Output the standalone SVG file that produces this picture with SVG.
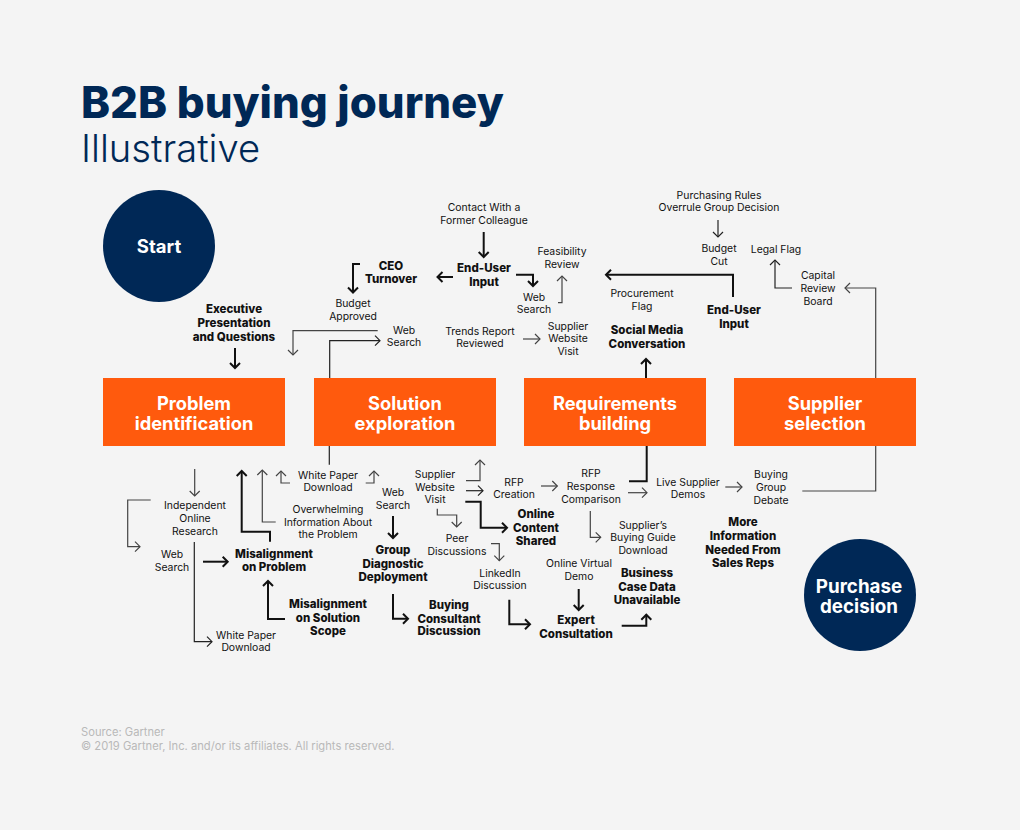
<svg xmlns="http://www.w3.org/2000/svg" width="1020" height="830" viewBox="0 0 1020 830">
<style>
text{font-family:Inter,"Liberation Sans",sans-serif;text-anchor:middle;fill:#111}
.r{font-size:10.4px;font-weight:400}
.b{font-size:11.500px;font-weight:800}
.box rect{fill:#ff5a0d}
.box text{font-size:18.300px;font-weight:700;fill:#fff}
.c circle{fill:#002856}
.c text{fill:#fff;font-weight:700}
.t{fill:none;stroke:#222;stroke-width:1.2;marker-end:url(#mt)}
.g{fill:none;stroke:#444;stroke-width:1.2;marker-end:url(#mg)}
.k{fill:none;stroke:#111;stroke-width:2;marker-end:url(#mk)}
.n{fill:none;stroke:#222;stroke-width:1.2}
.gn{fill:none;stroke:#444;stroke-width:1.2}
.ft{font-size:11.200px;fill:#b9b9b9;text-anchor:start}
</style>
<defs>
<marker id="mt" markerUnits="userSpaceOnUse" markerWidth="14" markerHeight="14" refX="7" refY="7" orient="auto"><path d="M2,2L7,7L2,12" fill="none" stroke="#222" stroke-width="1.2"/></marker>
<marker id="mg" markerUnits="userSpaceOnUse" markerWidth="14" markerHeight="14" refX="7" refY="7" orient="auto"><path d="M2,2L7,7L2,12" fill="none" stroke="#444" stroke-width="1.2"/></marker>
<marker id="mk" markerUnits="userSpaceOnUse" markerWidth="14" markerHeight="14" refX="7" refY="7" orient="auto"><path d="M2,2L7,7L2,12" fill="none" stroke="#111" stroke-width="2"/></marker>
</defs>
<rect width="1020" height="830" fill="#f4f4f4"/>
<text x="81" y="118" style="font-size:43.800px;font-weight:800;fill:#002856;text-anchor:start">B2B buying journey</text>
<text x="81" y="162" style="font-size:38.200px;font-weight:300;fill:#002856;text-anchor:start">Illustrative</text>
<g id="connectors">
<path class="k" d="M483.7 232V257"/>
<path class="k" d="M453 277H437.500"/>
<path class="k" d="M516 274.700H533V286"/>
<path class="k" d="M360 264H353V292.500"/>
<path class="g" d="M377.700 330.700H293V355"/>
<path class="t" d="M329.700 378V340.700H380"/>
<path class="g" d="M523 339H540"/>
<path class="k" d="M235 348V368"/>
<path class="g" d="M558 302.700H562V276"/>
<path class="t" d="M718 220V237"/>
<path class="k" d="M733 297V274.700H606"/>
<path class="t" d="M792 288H775V260"/>
<path class="g" d="M875.700 378V288H845"/>
<path class="k" d="M646 378V359"/>
<path class="g" d="M194.700 469V496"/>
<path class="g" d="M150.700 500H127.700V546.700H140"/>
<path class="t" d="M194.300 542V641.700H212"/>
<path class="k" d="M203 561.700H227.700"/>
<path class="k" d="M270 541.700V531.700H241.700V471"/>
<path class="g" d="M275.700 522H262.300V470"/>
<path class="g" d="M290 483H281V471"/>
<path class="g" d="M365.700 483H374V471"/>
<path class="n" d="M329.300 446V464.700"/>
<path class="k" d="M285 619H268V581"/>
<path class="k" d="M393 516V538"/>
<path class="k" d="M393 594V618.700H408"/>
<path class="g" d="M466 480.700H480V460"/>
<path class="t" d="M466 490.700H483"/>
<path class="k" d="M465.300 501.700H480.700V527.700H507"/>
<path class="g" d="M437.300 508.700V515H456.700V527"/>
<path class="g" d="M491 543.700H499.300V560.700"/>
<path class="g" d="M541 486H557.300"/>
<path class="k" d="M646.700 446V481.300H629" style="marker-end:none"/>
<path class="g" d="M628 492.700H647"/>
<path class="g" d="M590.300 511V537.300H600.700"/>
<path class="k" d="M509.300 599.700V624.300H530"/>
<path class="k" d="M578.700 589V610"/>
<path class="k" d="M621.700 625.700H646.300V614.700"/>
<path class="gn" d="M802.300 491H875.700V446"/>
<path class="g" d="M725.300 487H742"/>
</g>
<g id="start" class="c"><circle cx="159" cy="246" r="56"/><text x="159" y="253" style="font-size:18.500px">Start</text></g>
<g id="purchase-decision" class="c"><circle cx="860" cy="595" r="56"/><text style="font-size:18.800px"><tspan x="859" y="593">Purchase</tspan><tspan x="859" y="613">decision</tspan></text></g>
<g id="problem-identification" class="box"><rect x="103" y="378" width="182" height="68"/><text x="194" y="409.500">Problem</text><text x="194" y="429.500">identification</text></g>
<g id="solution-exploration" class="box"><rect x="314" y="378" width="182" height="68"/><text x="405" y="409.500">Solution</text><text x="405" y="429.500">exploration</text></g>
<g id="requirements-building" class="box"><rect x="524" y="378" width="182" height="68"/><text x="615" y="409.500">Requirements</text><text x="615" y="429.500">building</text></g>
<g id="supplier-selection" class="box"><rect x="734" y="378" width="182" height="68"/><text x="825" y="409.500">Supplier</text><text x="825" y="429.500">selection</text></g>
<g id="contact"><text class="r" x="484" y="211">Contact With a</text><text class="r" x="484" y="224">Former Colleague</text></g>
<g id="ceo"><text class="b" x="391" y="270">CEO</text><text class="b" x="391" y="283">Turnover</text></g>
<g id="end-user-1"><text class="b" x="484" y="272">End-User</text><text class="b" x="484" y="286">Input</text></g>
<g id="budget-approved"><text class="r" x="353" y="307">Budget</text><text class="r" x="353" y="320">Approved</text></g>
<g id="executive"><text class="b" x="234" y="313">Executive</text><text class="b" x="234" y="327">Presentation</text><text class="b" x="234" y="341">and Questions</text></g>
<g id="web-search-1"><text class="r" x="404" y="334">Web</text><text class="r" x="404" y="346">Search</text></g>
<g id="trends"><text class="r" x="480" y="335">Trends Report</text><text class="r" x="480" y="347">Reviewed</text></g>
<g id="web-search-2"><text class="r" x="534" y="301">Web</text><text class="r" x="534" y="313">Search</text></g>
<g id="feasibility"><text class="r" x="562" y="255">Feasibility</text><text class="r" x="562" y="268">Review</text></g>
<g id="supplier-site-1"><text class="r" x="568" y="330">Supplier</text><text class="r" x="568" y="342">Website</text><text class="r" x="568" y="355">Visit</text></g>
<g id="procurement"><text class="r" x="642" y="297">Procurement</text><text class="r" x="642" y="310">Flag</text></g>
<g id="social"><text class="b" x="647" y="334">Social Media</text><text class="b" x="647" y="348">Conversation</text></g>
<g id="end-user-2"><text class="b" x="734" y="314">End-User</text><text class="b" x="734" y="328">Input</text></g>
<g id="purchasing-rules"><text class="r" x="719" y="199">Purchasing Rules</text><text class="r" x="719" y="211">Overrule Group Decision</text></g>
<g id="budget-cut"><text class="r" x="719" y="252">Budget</text><text class="r" x="719" y="265">Cut</text></g>
<g id="legal"><text class="r" x="776" y="253">Legal Flag</text></g>
<g id="capital"><text class="r" x="818" y="279">Capital</text><text class="r" x="818" y="292">Review</text><text class="r" x="818" y="305">Board</text></g>
<g id="independent"><text class="r" x="195" y="509">Independent</text><text class="r" x="195" y="522">Online</text><text class="r" x="195" y="535">Research</text></g>
<g id="web-search-3"><text class="r" x="172" y="558">Web</text><text class="r" x="172" y="571">Search</text></g>
<g id="white-paper-1"><text class="r" x="246" y="639">White Paper</text><text class="r" x="246" y="651">Download</text></g>
<g id="misalign-problem"><text class="b" x="274" y="558">Misalignment</text><text class="b" x="274" y="571">on Problem</text></g>
<g id="misalign-scope"><text class="b" x="328" y="608">Misalignment</text><text class="b" x="328" y="622">on Solution</text><text class="b" x="328" y="635">Scope</text></g>
<g id="white-paper-2"><text class="r" x="328" y="479">White Paper</text><text class="r" x="328" y="491">Download</text></g>
<g id="overwhelming"><text class="r" x="328" y="513">Overwhelming</text><text class="r" x="328" y="526">Information About</text><text class="r" x="328" y="538">the Problem</text></g>
<g id="web-search-4"><text class="r" x="393" y="496">Web</text><text class="r" x="393" y="509">Search</text></g>
<g id="group"><text class="b" x="393" y="554">Group</text><text class="b" x="393" y="568">Diagnostic</text><text class="b" x="393" y="581">Deployment</text></g>
<g id="consultant"><text class="b" x="449" y="609">Buying</text><text class="b" x="449" y="623">Consultant</text><text class="b" x="449" y="635">Discussion</text></g>
<g id="supplier-site-2"><text class="r" x="435" y="478">Supplier</text><text class="r" x="435" y="491">Website</text><text class="r" x="435" y="503">Visit</text></g>
<g id="rfp-creation"><text class="r" x="514" y="486">RFP</text><text class="r" x="514" y="498">Creation</text></g>
<g id="rfp-response"><text class="r" x="591" y="477">RFP</text><text class="r" x="591" y="490">Response</text><text class="r" x="591" y="503">Comparison</text></g>
<g id="online-content"><text class="b" x="536" y="518">Online</text><text class="b" x="536" y="532">Content</text><text class="b" x="536" y="545">Shared</text></g>
<g id="peer"><text class="r" x="457" y="542">Peer</text><text class="r" x="457" y="555">Discussions</text></g>
<g id="linkedin"><text class="r" x="500" y="577">LinkedIn</text><text class="r" x="500" y="589">Discussion</text></g>
<g id="virtual-demo"><text class="r" x="579" y="567">Online Virtual</text><text class="r" x="579" y="580">Demo</text></g>
<g id="expert"><text class="b" x="576" y="624">Expert</text><text class="b" x="576" y="638">Consultation</text></g>
<g id="business-case"><text class="b" x="647" y="577">Business</text><text class="b" x="647" y="591">Case Data</text><text class="b" x="647" y="604">Unavailable</text></g>
<g id="buying-guide"><text class="r" x="643" y="529">Supplier’s</text><text class="r" x="643" y="541">Buying Guide</text><text class="r" x="643" y="554">Download</text></g>
<g id="live-demos"><text class="r" x="688" y="486">Live Supplier</text><text class="r" x="688" y="498">Demos</text></g>
<g id="debate"><text class="r" x="771" y="478">Buying</text><text class="r" x="771" y="491">Group</text><text class="r" x="771" y="504">Debate</text></g>
<g id="more-info"><text class="b" x="743" y="526">More</text><text class="b" x="743" y="540">Information</text><text class="b" x="743" y="554">Needed From</text><text class="b" x="743" y="567">Sales Reps</text></g>
<text class="ft" x="81" y="736">Source: Gartner</text>
<text class="ft" x="81" y="750">© 2019 Gartner, Inc. and/or its affiliates. All rights reserved.</text>
</svg>
